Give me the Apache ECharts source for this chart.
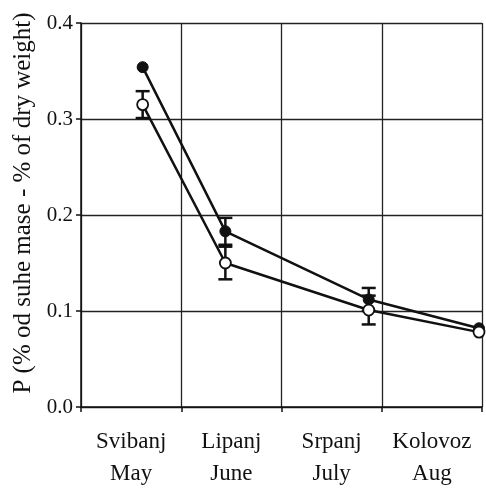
<!DOCTYPE html>
<html>
<head>
<meta charset="utf-8">
<script src="https://cdn.jsdelivr.net/npm/echarts@6/dist/echarts.min.js"></script>
<style>html,body{margin:0;padding:0;background:#fff}#c{width:486px;height:490px}</style>
</head>
<body>
<div id="c"></div>
<script>
// Month categories (labels between gridlines)
const monthsHr = ['Svibanj', 'Lipanj', 'Srpanj', 'Kolovoz'];
const monthsEn = ['May', 'June', 'July', 'Aug'];
// Sampling positions in months from start of May
const sampleX = [0.615, 1.44, 2.87, 3.97];
// Filled circles
const filledVals = [0.354, 0.183, 0.112, 0.082];
const filledErr = [0, 0.014, 0.012, 0];
// Open circles
const openVals = [0.315, 0.150, 0.101, 0.078];
const openErr = [0.014, 0.017, 0.015, 0];
const yTicks = [0, 0.1, 0.2, 0.3, 0.4];

const FONT = 'Liberation Serif';
const chart = echarts.init(document.getElementById('c'), null, {renderer: 'canvas'});

function pts(vals) { return vals.map((v, i) => [sampleX[i], v]); }
function errData(vals, errs) {
  const out = [];
  vals.forEach((v, i) => { if (errs[i] > 0) out.push([sampleX[i], v - errs[i], v + errs[i]]); });
  return out;
}
function errSeries(vals, errs) {
  return {
    type: 'custom', xAxisIndex: 0, yAxisIndex: 0, z: 3,
    data: errData(vals, errs),
    renderItem: function (params, api) {
      const x = api.value(0);
      const lo = api.coord([x, api.value(1)]);
      const hi = api.coord([x, api.value(2)]);
      const w = 7;
      const st = {stroke: '#111', lineWidth: 2.5};
      return {type: 'group', children: [
        {type: 'line', shape: {x1: lo[0], y1: lo[1], x2: hi[0], y2: hi[1]}, style: st},
        {type: 'line', shape: {x1: lo[0] - w, y1: lo[1], x2: lo[0] + w, y2: lo[1]}, style: st},
        {type: 'line', shape: {x1: hi[0] - w, y1: hi[1], x2: hi[0] + w, y2: hi[1]}, style: st}
      ]};
    }
  };
}

chart.setOption({
  animation: false,
  backgroundColor: '#fff',
  grid: {left: 81, right: 4, top: 23, bottom: 76.5},
  xAxis: [{
    type: 'value', min: 0, max: 4, interval: 1,
    axisLine: {show: true, lineStyle: {color: '#111', width: 1.5}},
    axisTick: {show: true, inside: false, length: 5, lineStyle: {color: '#111', width: 1.5}},
    axisLabel: {show: false},
    splitLine: {show: true, lineStyle: {color: '#222', width: 1.3}}
  }, {
    type: 'category', position: 'bottom', boundaryGap: true,
    data: monthsHr.map((m, i) => m + '\n' + monthsEn[i]),
    axisLine: {show: false}, axisTick: {show: false}, splitLine: {show: false},
    axisLabel: {show: true, interval: 0, margin: 19, color: '#111', fontFamily: FONT, fontSize: 23, lineHeight: 32}
  }],
  yAxis: {
    type: 'value', min: 0, max: 0.4, interval: 0.1,
    name: 'P (% od suhe mase - % of dry weight)',
    nameLocation: 'middle', nameGap: 44, nameRotate: 90,
    nameTextStyle: {color: '#111', fontFamily: FONT, fontSize: 25, padding: [0, 0, 0, 24]},
    axisLine: {show: true, lineStyle: {color: '#111', width: 1.5}},
    axisTick: {show: true, length: 5, lineStyle: {color: '#111', width: 1.5}},
    axisLabel: {margin: 8, color: '#111', fontFamily: FONT, fontSize: 21, formatter: v => v.toFixed(1)},
    splitLine: {show: true, lineStyle: {color: '#222', width: 1.3}}
  },
  series: [
    errSeries(filledVals, filledErr),
    errSeries(openVals, openErr),
    {
      type: 'line', xAxisIndex: 0, data: pts(filledVals), z: 4,
      symbol: 'circle', symbolSize: 11,
      lineStyle: {color: '#111', width: 2.5},
      itemStyle: {color: '#111', borderColor: '#111', borderWidth: 1}
    },
    {
      type: 'line', xAxisIndex: 0, data: pts(openVals), z: 4,
      symbol: 'circle', symbolSize: 11,
      lineStyle: {color: '#111', width: 2.5},
      itemStyle: {color: '#fff', borderColor: '#111', borderWidth: 1.8}
    }
  ]
});
</script>
</body>
</html>
